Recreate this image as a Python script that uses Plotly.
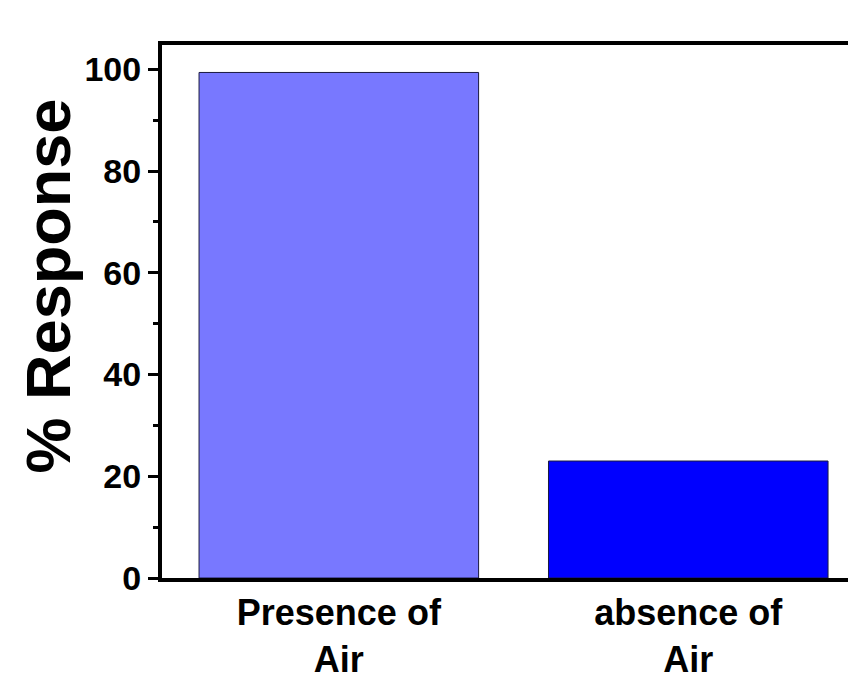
import plotly.graph_objects as go

categories = ["Presence of<br>Air", "absence of<br>Air"]
values = [99.4, 23.0]
bar_colors = ["#7878FF", "#0000FF"]
tick_vals = [0, 20, 40, 60, 80, 100]
y_title = "% Response"

FONT = "Arial, 'Liberation Sans', sans-serif"

fig = go.Figure()
fig.add_trace(go.Bar(
    x=categories, y=values,
    marker=dict(color=bar_colors, line=dict(color="#1a1a40", width=1)),
    width=0.8,
))

# page body has an 8px margin; compensate so the plot lands where the reference has it
fig.update_layout(
    width=848, height=672,
    margin=dict(l=154, r=0, t=37, b=92),
    plot_bgcolor="white", paper_bgcolor="white",
    showlegend=False,
    font=dict(family=FONT, color="black"),
)
fig.update_xaxes(
    range=[-0.506, 1.48],
    showline=True, linecolor="black", linewidth=4, mirror=True,
    ticks="", showgrid=False,
    tickfont=dict(size=36, family=FONT, weight="bold"),
)
fig.update_yaxes(
    range=[0, 104.8],
    tickvals=tick_vals,
    showline=True, linecolor="black", linewidth=4,
    ticks="outside", ticklen=10, tickwidth=3, tickcolor="black",
    minor=dict(ticks="outside", ticklen=5, tickwidth=3, tickcolor="black", dtick=10, showgrid=False),
    showgrid=False, zeroline=False,
    tickfont=dict(size=34, family=FONT, weight="bold"),
)
fig.add_annotation(
    text=y_title, textangle=-90,
    xref="paper", yref="paper", x=-0.165, y=0.548,
    xanchor="center", yanchor="middle", showarrow=False,
    font=dict(size=63, family=FONT, weight="bold", color="black"),
)

fig.write_html("out.html")
